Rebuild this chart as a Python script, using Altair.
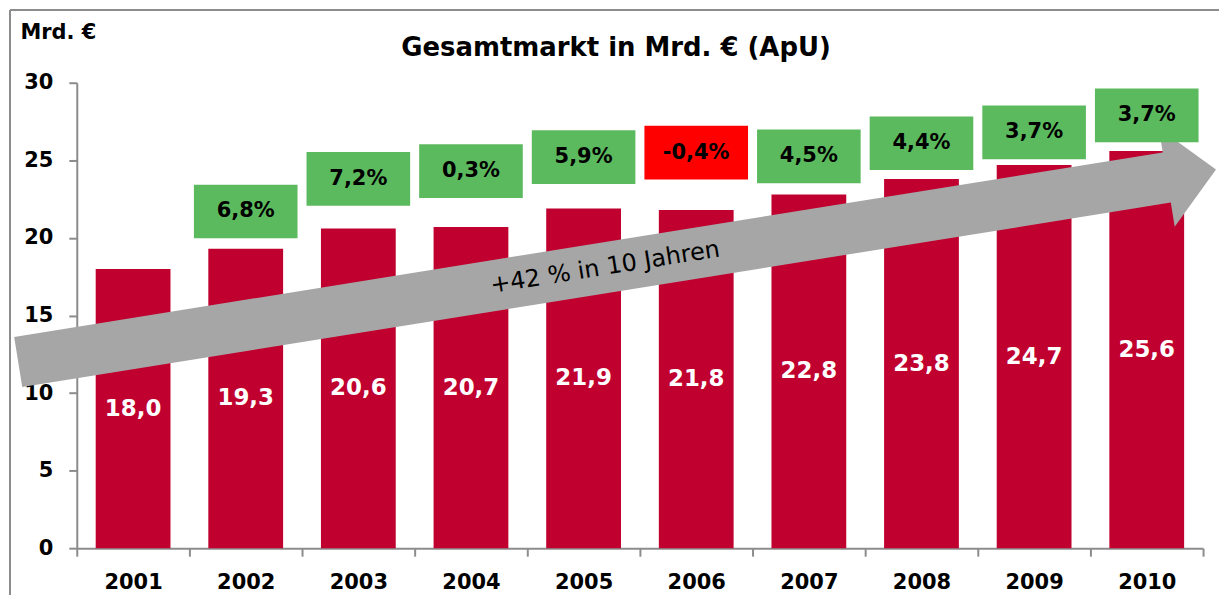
import math
import altair as alt
import pandas as pd

# ---------------- data ----------------
years = ["2001", "2002", "2003", "2004", "2005", "2006", "2007", "2008", "2009", "2010"]
market = [18.0, 19.3, 20.6, 20.7, 21.9, 21.8, 22.8, 23.8, 24.7, 25.6]

growth_years = ["2002", "2003", "2004", "2005", "2006", "2007", "2008", "2009", "2010"]
growth = [6.8, 7.2, 0.3, 5.9, -0.4, 4.5, 4.4, 3.7, 3.7]
# height (in Mrd. €) where each growth badge is centred
growth_label_y = [21.7, 23.8, 24.3, 25.2, 25.5, 25.25, 26.1, 26.8, 27.9]

arrow_text = "+42 % in 10 Jahren"
# trend arrow anchors: (position in years from the left edge, Mrd. €)
arrow_tail = (-0.52, 12.0)
arrow_tip = (10.115, 24.4)

# ---------------- layout / style ----------------
W, H = 1130, 467
FONT = "DejaVu Sans"
BAR = "#C0002F"
GREEN = "#5CBA5E"
RED = "#FF0000"
ARROW = "#A6A6A6"
AXIS_GRAY = "#8C8C8C"
BOX_HALF = 1.73  # half badge height in Mrd. €


def de(v, nd=1):
    return f"{v:.{nd}f}".replace(".", ",")


bars_df = pd.DataFrame({
    "Jahr": years,
    "Wert": market,
    "Label": [de(v) for v in market],
    "Mitte": [v / 2 for v in market],
})

growth_df = pd.DataFrame({
    "Jahr": growth_years,
    "Wachstum": growth,
    "Label": [de(g) + "%" for g in growth],
    "Mitte": growth_label_y,
    "Unten": [y - BOX_HALF for y in growth_label_y],
    "Oben": [y + BOX_HALF for y in growth_label_y],
    "Vorzeichen": ["plus" if g >= 0 else "minus" for g in growth],
})

# arrow geometry (pixel lengths derived from the scales)
px_x = W / 10
px_y = H / 30
dx = (arrow_tip[0] - arrow_tail[0]) * px_x
dy = (arrow_tip[1] - arrow_tail[1]) * px_y
L = math.hypot(dx, dy)
ang = (360 - math.degrees(math.atan2(dy, dx))) % 360
r = L / 2
sh = 25.5 / r   # shaft half thickness
hh = 50 / r     # head half width
hl = 50 / r     # head length
hb = 1 - hl
ARROW_PATH = (f"M -1 {-sh:.4f} L {hb:.4f} {-sh:.4f} L {hb:.4f} {-hh:.4f} L 1 0 "
              f"L {hb:.4f} {hh:.4f} L {hb:.4f} {sh:.4f} L -1 {sh:.4f} Z")


def along(t):
    """point on the arrow axis -> (year category, position inside band, value)"""
    p = arrow_tail[0] + t * (arrow_tip[0] - arrow_tail[0])
    v = arrow_tail[1] + t * (arrow_tip[1] - arrow_tail[1])
    i = int(math.floor(p))
    return years[i], p - i, v


a_year, a_band, a_val = along(0.5)
arrow_df = pd.DataFrame({"Jahr": [a_year], "Wert": [a_val]})
t_year, t_band, t_val = along(0.49)
arrow_text_df = pd.DataFrame({"Jahr": [t_year], "Wert": [t_val], "Text": [arrow_text]})

# ---------------- encodings ----------------
x_scale = alt.Scale(domain=years, paddingInner=0, paddingOuter=0)
y_scale = alt.Scale(domain=[0, 30], nice=False, zero=True)

x_axis = alt.Axis(
    title=None, labelAngle=0, labelFont=FONT, labelFontSize=21, labelFontWeight="bold",
    labelColor="black", labelPadding=15, tickBand="extent", tickSize=8, tickWidth=2,
    tickColor=AXIS_GRAY, domainColor=AXIS_GRAY, domainWidth=2,
)
y_axis = alt.Axis(
    title="Mrd. €", values=[0, 5, 10, 15, 20, 25, 30], grid=False,
    labelFont=FONT, labelFontSize=21, labelFontWeight="bold", labelColor="black",
    labelPadding=16, tickSize=8, tickWidth=2, tickColor=AXIS_GRAY,
    domainColor=AXIS_GRAY, domainWidth=2,
    titleAngle=0, titleX=-57, titleY=-50, titleAlign="left", titleBaseline="middle",
    titleFont=FONT, titleFontSize=21, titleFontWeight="bold", titleColor="black",
)


def X(**kw):
    return alt.X("Jahr:N", scale=x_scale, axis=x_axis, **kw)


def Y(field):
    return alt.Y(field, scale=y_scale, axis=y_axis)


bars = alt.Chart(bars_df).mark_bar(color=BAR, width=alt.RelativeBandSize(0.664)).encode(
    x=X(), y=Y("Wert:Q"),
)

bar_labels = alt.Chart(bars_df).mark_text(
    color="white", font=FONT, fontSize=23, fontWeight="bold", baseline="middle"
).encode(x=X(), y=Y("Mitte:Q"), text="Label:N")

boxes = alt.Chart(growth_df).mark_bar(width=alt.RelativeBandSize(0.92)).encode(
    x=X(),
    y=Y("Unten:Q"),
    y2="Oben:Q",
    color=alt.Color("Vorzeichen:N", scale=alt.Scale(domain=["plus", "minus"], range=[GREEN, RED]),
                    legend=None),
)

box_labels = alt.Chart(growth_df).mark_text(
    color="black", font=FONT, fontSize=21, fontWeight="bold", baseline="middle"
).encode(x=X(), y=Y("Mitte:Q"), text="Label:N")

arrow = alt.Chart(arrow_df).mark_point(
    shape=ARROW_PATH, size=L * L, angle=ang, filled=True, color=ARROW, opacity=1, strokeWidth=0
).encode(x=X(bandPosition=a_band), y=Y("Wert:Q"))

arrow_label = alt.Chart(arrow_text_df).mark_text(
    angle=ang, font=FONT, fontSize=24, color="black", baseline="middle", align="center"
).encode(x=X(bandPosition=t_band), y=Y("Wert:Q"), text="Text:N")

title_df = pd.DataFrame({"t": ["Gesamtmarkt in Mrd. € (ApU)"]})
title = alt.Chart(title_df).mark_text(
    font=FONT, fontSize=26, fontWeight="bold", color="black", baseline="middle", align="center"
).encode(x=alt.value(541), y=alt.value(-35), text="t:N")

frame_top = alt.Chart(title_df).mark_rule(color=AXIS_GRAY, strokeWidth=2).encode(
    x=alt.value(-67), x2=alt.value(1160), y=alt.value(-73)
)
frame_left = alt.Chart(title_df).mark_rule(color=AXIS_GRAY, strokeWidth=2).encode(
    x=alt.value(-67), y=alt.value(-73), y2=alt.value(540)
)

chart = alt.layer(
    bars, arrow, arrow_label, boxes, box_labels, bar_labels, title, frame_top, frame_left
).properties(
    width=W, height=H,
    autosize=alt.AutoSizeParams(type="none"),
    padding={"left": 69, "top": 74, "right": 16, "bottom": 46},
).configure(font=FONT, view=alt.ViewConfig(stroke=None))

chart.save("out.html", embed_options={"renderer": "svg", "actions": False})
